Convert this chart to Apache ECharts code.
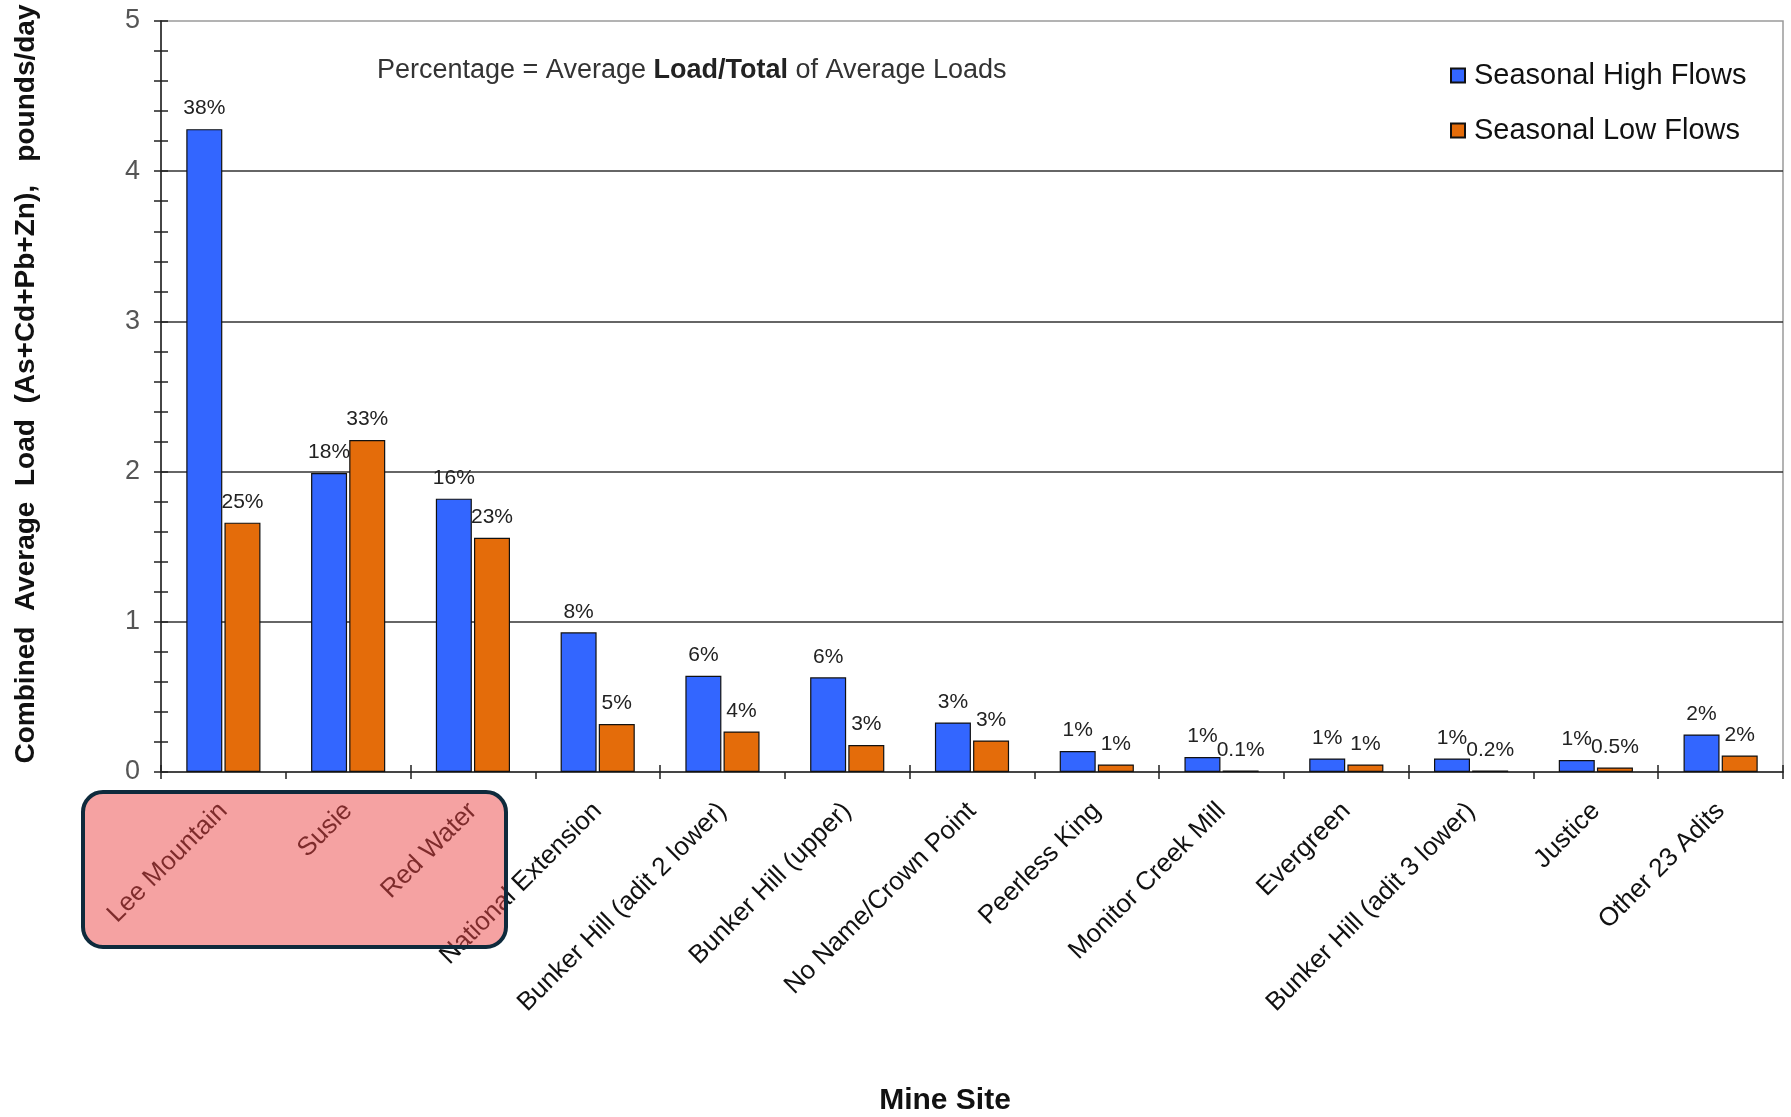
<!DOCTYPE html>
<html><head><meta charset="utf-8">
<script src="https://cdn.jsdelivr.net/npm/echarts@6/dist/echarts.min.js"></script>
<style>html,body{margin:0;padding:0;background:#fff}#c{width:1791px;height:1117px}</style>
</head><body><div id="c"></div>
<script>
const categories = ['Lee Mountain','Susie','Red Water','National Extension','Bunker Hill (adit 2 lower)','Bunker Hill (upper)','No Name/Crown Point','Peerless King','Monitor Creek Mill','Evergreen','Bunker Hill (adit 3 lower)','Justice','Other 23 Adits'];
const highFlows = [4.28, 1.99, 1.82, 0.93, 0.64, 0.63, 0.33, 0.14, 0.10, 0.09, 0.09, 0.08, 0.25];
const lowFlows  = [1.66, 2.21, 1.56, 0.32, 0.27, 0.18, 0.21, 0.05, 0.01, 0.05, 0.01, 0.03, 0.11];
const highPct = ['38%','18%','16%','8%','6%','6%','3%','1%','1%','1%','1%','1%','2%'];
const lowPct  = ['25%','33%','23%','5%','4%','3%','3%','1%','0.1%','1%','0.2%','0.5%','2%'];
const yTicks = [0, 1, 2, 3, 4, 5];
const seriesNames = ['Seasonal High Flows', 'Seasonal Low Flows'];

const FONT = "'Liberation Sans', Arial, sans-serif";
const chart = echarts.init(document.getElementById('c'), null, {renderer: 'canvas'});
const yMin = yTicks[0], yMax = yTicks[yTicks.length - 1], yInt = yTicks[1] - yTicks[0];
const axisCol = '#222';

function pctLabel(arr) {
  return {
    show: true, position: 'top', distance: 10,
    fontSize: 21, fontFamily: FONT, color: '#222',
    formatter: p => arr[p.dataIndex]
  };
}

chart.setOption({
  backgroundColor: '#fff',
  animation: false,
  grid: [
    {left: 161, right: 8, top: 21, bottom: 345, show: true, borderColor: '#9a9a9a', borderWidth: 1.5, backgroundColor: 'transparent'},
    {left: 161, right: 8, top: 21, bottom: 345}
  ],
  legend: {
    orient: 'vertical', left: 1450, top: 61, padding: 0, itemWidth: 14, itemHeight: 14, itemGap: 26,
    icon: 'rect', data: seriesNames,
    textStyle: {fontSize: 29, color: '#111', fontFamily: FONT, padding: [0, 0, 0, 4]}
  },
  xAxis: [
    {
      type: 'category', data: categories, gridIndex: 0,
      axisLine: {show: true, lineStyle: {color: axisCol, width: 1.5}},
      axisTick: {show: true, length: 7, lineStyle: {color: axisCol, width: 1.5}},
      axisLabel: {rotate: 45, margin: 35, fontSize: 26, color: '#111', interval: 0, fontFamily: FONT},
      splitLine: {show: false}
    },
    {
      type: 'category', data: categories, gridIndex: 1,
      axisLine: {show: false},
      axisTick: {show: true, inside: true, length: 7, lineStyle: {color: axisCol, width: 1.5}},
      axisLabel: {show: false}, splitLine: {show: false}
    }
  ],
  yAxis: [
    {
      type: 'value', min: yMin, max: yMax, interval: yInt, gridIndex: 0,
      axisLine: {show: true, lineStyle: {color: axisCol, width: 1.5}},
      axisTick: {show: true, length: 7, lineStyle: {color: axisCol, width: 1.5}},
      minorTick: {show: true, splitNumber: 5, length: 7, lineStyle: {color: axisCol, width: 1.5}},
      axisLabel: {fontSize: 27, color: '#555', margin: 21, fontFamily: FONT},
      splitLine: {show: true, showMinLine: false, showMaxLine: false, lineStyle: {color: '#333', width: 1.5}},
      minorSplitLine: {show: false}
    },
    {
      type: 'value', min: yMin, max: yMax, interval: yInt, gridIndex: 1,
      axisLine: {show: false},
      axisTick: {show: true, inside: true, length: 7, lineStyle: {color: axisCol, width: 1.5}},
      minorTick: {show: true, splitNumber: 5, length: 7, lineStyle: {color: axisCol, width: 1.5}},
      axisLabel: {show: false}, splitLine: {show: false}
    }
  ],
  series: [
    {
      name: seriesNames[0], type: 'bar', data: highFlows, xAxisIndex: 0, yAxisIndex: 0,
      barWidth: 36, barGap: '6%',
      itemStyle: {color: '#3366ff', borderColor: '#111', borderWidth: 1.2},
      label: pctLabel(highPct)
    },
    {
      name: seriesNames[1], type: 'bar', data: lowFlows, xAxisIndex: 0, yAxisIndex: 0,
      barWidth: 36, barGap: '6%',
      itemStyle: {color: '#e46c0a', borderColor: '#111', borderWidth: 1.2},
      label: pctLabel(lowPct)
    }
  ],
  graphic: [
    {
      type: 'text', left: 377, top: 57, z: 50,
      style: {
        text: 'Percentage = Average {b|Load/Total} of Average Loads',
        fontSize: 27, fontFamily: FONT, fill: '#333',
        rich: {b: {fontSize: 27, fontWeight: 'bold', fontFamily: FONT, fill: '#222'}}
      }
    },
    {
      type: 'text', x: 26, y: 384, rotation: Math.PI / 2, z: 50,
      style: {
        text: 'Combined  Average  Load  (As+Cd+Pb+Zn),   pounds/day',
        fontSize: 28, fontWeight: 'bold', fontFamily: FONT, fill: '#111',
        align: 'center', verticalAlign: 'middle'
      }
    },
    {
      type: 'text', x: 945, y: 1101, z: 50,
      style: {
        text: 'Mine Site', fontSize: 30, fontWeight: 'bold', fontFamily: FONT, fill: '#111',
        align: 'center', verticalAlign: 'middle'
      }
    },
    {
      type: 'rect', z: 100,
      shape: {x: 83, y: 792, width: 423, height: 155, r: 20},
      style: {fill: 'rgba(236,70,70,0.5)', stroke: '#0e2a3c', lineWidth: 4}
    }
  ]
});
</script></body></html>
